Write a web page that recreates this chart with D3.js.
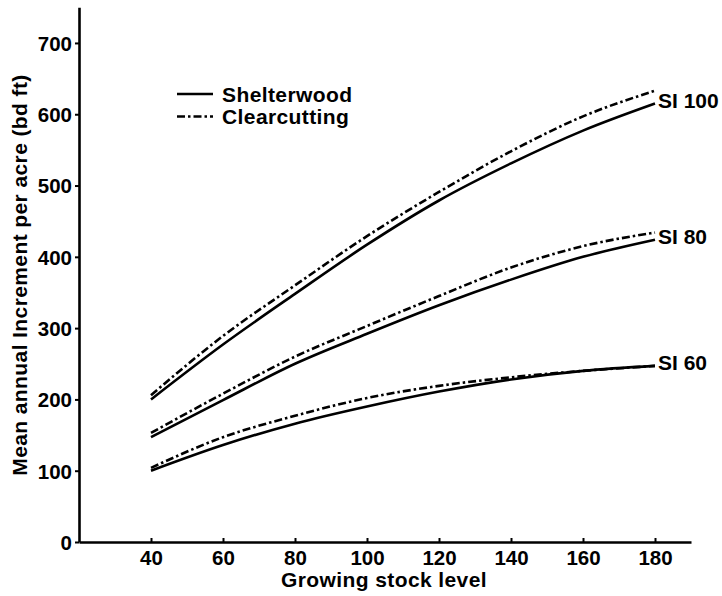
<!DOCTYPE html>
<html>
<head>
<meta charset="utf-8">
<script src="https://cdn.jsdelivr.net/npm/d3@7"></script>
<style>
  html, body { margin: 0; padding: 0; background: #fff; }
  svg { display: block; }
  text { font-family: "Liberation Sans", Arial, Helvetica, sans-serif; font-weight: bold; fill: #000; }
</style>
</head>
<body>
<svg id="chart" width="722" height="596"></svg>
<script>
// Growing stock levels at which the curves are given
const stockLevels = [40, 60, 80, 100, 120, 140, 160, 180];

// Mean annual increment (bd ft per acre) by site index
const si100Shelterwood = [200, 277, 348, 417, 479, 531, 577, 615];
const si100Clearcut    = [206, 289, 360, 429, 491, 548, 597, 633];
const si80Shelterwood  = [147, 199, 250, 292, 332, 368, 400, 424];
const si80Clearcut     = [153, 208, 260, 303, 345, 385, 415, 434];
const si60Shelterwood  = [100, 136, 166, 190, 211, 228, 240, 247];
const si60Clearcut     = [104, 147, 177, 202, 219, 231, 240, 247];

const siLabels = ["SI 100", "SI 80", "SI 60"];
const xTicks = [40, 60, 80, 100, 120, 140, 160, 180];
const yTicks = [0, 100, 200, 300, 400, 500, 600, 700];
const legendNames = ["Shelterwood", "Clearcutting"];

const svg = d3.select("#chart");

const x = d3.scaleLinear().domain([20, 190]).range([79, 691]);
const y = d3.scaleLinear().domain([0, 750]).range([542, 7.3]);

const DASHDOT = "8,3,2.5,3";

// Axes
const xAxis = svg.append("g").attr("transform", `translate(0,${y(0)})`)
  .call(d3.axisBottom(x).tickValues(xTicks).tickSizeInner(-4).tickSizeOuter(0).tickPadding(8));
const yAxis = svg.append("g").attr("transform", `translate(${x(20)},0)`)
  .call(d3.axisLeft(y).tickValues(yTicks).tickSizeInner(4).tickSizeOuter(0).tickPadding(3));

[xAxis, yAxis].forEach(g => {
  g.select(".domain").attr("stroke", "#000").attr("stroke-width", 2.6);
  g.selectAll(".tick line").attr("stroke", "#000").attr("stroke-width", 2);
  g.selectAll(".tick text").attr("font-size", 20.5).attr("font-family", null).attr("fill", "#000");
});
yAxis.selectAll(".tick text").attr("dy", "0.36em");

// Axis titles
svg.append("text")
  .attr("x", 384).attr("y", 587)
  .attr("text-anchor", "middle")
  .attr("font-size", 21)
  .attr("letter-spacing", 0.4)
  .text("Growing stock level");

svg.append("text")
  .attr("transform", `translate(19,275) rotate(-90)`)
  .attr("text-anchor", "middle")
  .attr("dominant-baseline", "central")
  .attr("font-size", 21)
  .attr("letter-spacing", 0.4)
  .text("Mean annual Increment per acre (bd ft)");

// Curves
const line = d3.line()
  .x((d, i) => x(stockLevels[i]))
  .y(d => y(d))
  .curve(d3.curveMonotoneX);

const series = [
  { values: si100Shelterwood, dash: null },
  { values: si100Clearcut, dash: DASHDOT },
  { values: si80Shelterwood, dash: null },
  { values: si80Clearcut, dash: DASHDOT },
  { values: si60Shelterwood, dash: null },
  { values: si60Clearcut, dash: DASHDOT }
];

svg.append("g").selectAll("path")
  .data(series)
  .join("path")
  .attr("d", d => line(d.values))
  .attr("fill", "none")
  .attr("stroke", "#000")
  .attr("stroke-width", 2.6)
  .attr("stroke-dasharray", d => d.dash);

// Site index labels at the curve ends
const lastX = stockLevels[stockLevels.length - 1];
const labelEnds = [si100Shelterwood, si80Shelterwood, si60Shelterwood].map(v => v[v.length - 1]);
svg.append("g").selectAll("text")
  .data(siLabels)
  .join("text")
  .attr("x", x(lastX) + 3)
  .attr("y", (d, i) => y(labelEnds[i]) - 3)
  .attr("dominant-baseline", "central")
  .attr("font-size", 21)
  .text(d => d);

// Legend
const legend = svg.append("g").attr("transform", "translate(177,94)");
legendNames.forEach((name, i) => {
  const gy = i * 22.5;
  legend.append("line")
    .attr("x1", 0).attr("x2", 36)
    .attr("y1", gy).attr("y2", gy)
    .attr("stroke", "#000").attr("stroke-width", 2.6)
    .attr("stroke-dasharray", i === 0 ? null : DASHDOT);
  legend.append("text")
    .attr("x", 45).attr("y", gy)
    .attr("dominant-baseline", "central")
    .attr("font-size", 21)
    .attr("letter-spacing", 0.4)
    .text(name);
});
</script>
</body>
</html>
